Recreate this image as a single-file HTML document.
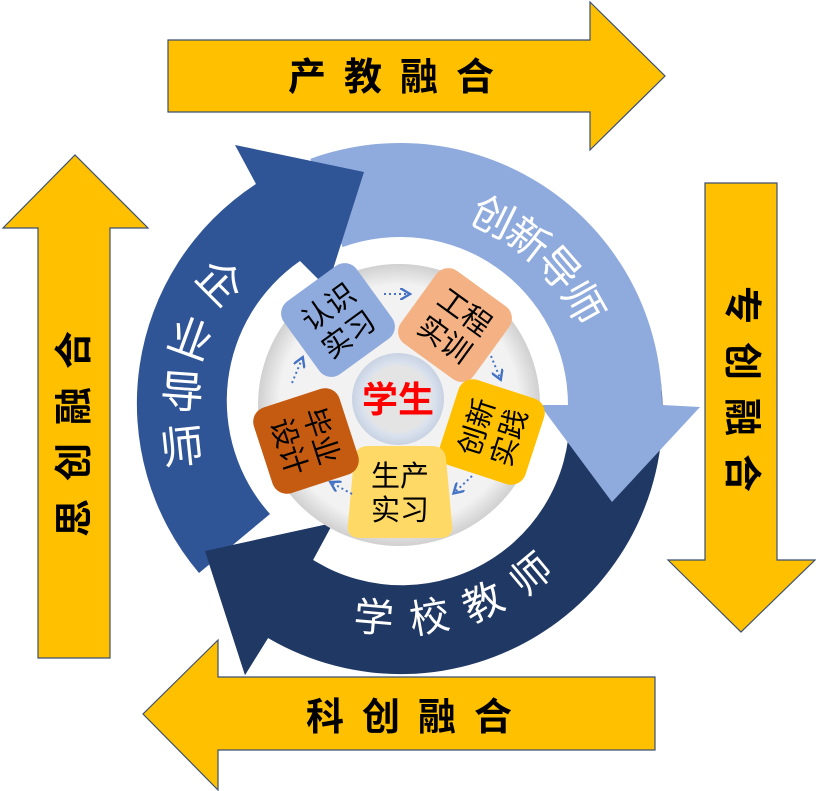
<!DOCTYPE html>
<html><head><meta charset="utf-8"><style>
html,body{margin:0;padding:0;background:#fff;}
svg{display:block;}
text{font-family:"Liberation Sans","Noto Sans CJK SC",sans-serif;}
</style></head><body>
<svg width="816" height="791" viewBox="0 0 816 791" xmlns="http://www.w3.org/2000/svg">
<defs>
<radialGradient id="disk" cx="50%" cy="50%" r="50%">
<stop offset="85%" stop-color="#f2f2f2"/><stop offset="100%" stop-color="#d0d0d0"/>
</radialGradient>
<radialGradient id="stu" cx="50%" cy="50%" r="50%">
<stop offset="70%" stop-color="#e4e4e4"/><stop offset="80%" stop-color="#d9e1ee"/><stop offset="100%" stop-color="#c8d2e2"/>
</radialGradient>
<marker id="ah" markerWidth="6" markerHeight="6" refX="4" refY="3" orient="auto"><path d="M0,0 L5,3 L0,6" fill="none" stroke="#4472C4" stroke-width="1.2"/></marker>
<path id="p1" d="M443.7,199.6 A212,212 0 0 1 602.8,350.6"/>
<path id="p2" d="M309.1,599.9 A215,215 0 0 0 586.2,512.5"/>
</defs>

<!-- yellow arrows -->
<g fill="#FFC000" stroke="#3A4F72" stroke-width="1.2">
<polygon points="168,40 590,40 590,2 665,76 590,150 590,112 168,112"/>
<polygon points="705,183 777,183 777,560 815,560 741,632 668,560 705,560"/>
<polygon points="655,677 655,750 218,750 218,790 143,714 218,640 218,677"/>
<polygon points="38,658 38,228 3,228 75,155 148,228 110,228 110,658"/>
</g>
<g font-weight="bold" font-size="38">
<text x="400" y="90" text-anchor="middle" letter-spacing="18">产教融合</text>
<text x="418" y="730" text-anchor="middle" letter-spacing="18">科创融合</text>
<text transform="translate(741,398) rotate(90)" text-anchor="middle" dominant-baseline="central" letter-spacing="18">专创融合</text>
<text transform="translate(75,425) rotate(-90)" text-anchor="middle" dominant-baseline="central" letter-spacing="18">思创融合</text>
</g>

<!-- ring arrows -->
<path fill="#203864" d="M661,382.2 A262,262 0 0 1 268,638 L245,675 L205,551 L333,523 L313,560 A168,168 0 0 0 567.4,390.4 Z"/>
<path fill="#8FAADC" d="M310.4,158.8 A262,262 0 0 1 662,405 L700,407 L612,502 L540,405 L568,405 A168,168 0 0 0 342.5,247.1 Z"/>
<path fill="#2F5597" d="M199,573 A262,262 0 0 1 256,184 L235,145 L364,172 L327,288 L300,261 A170,170 0 0 0 270,514 Z"/>
<!-- navy arrowhead redrawn on top -->
<path fill="#203864" d="M320,655 L268,638 L245,675 L205,551 L333,523 L313,560 L340,575 Z"/>

<text font-size="42" fill="#fff" dominant-baseline="central"><textPath href="#p1" startOffset="50%" text-anchor="middle">创新导师</textPath></text>
<text font-size="40" fill="#fff" dominant-baseline="central" letter-spacing="16"><textPath href="#p2" startOffset="50%" text-anchor="middle">学校教师</textPath></text>
<g font-size="44" fill="#fff" text-anchor="middle" dominant-baseline="central">
<text transform="translate(219,283) rotate(45)">企</text>
<text transform="translate(190,340) rotate(20)">业</text>
<text transform="translate(182,393) rotate(4)">导</text>
<text transform="translate(182,448) rotate(-6)">师</text>
</g>

<!-- center disk -->
<circle cx="399" cy="405" r="141" fill="url(#disk)"/>
<circle cx="398" cy="399" r="46" fill="url(#stu)"/>
<text x="398" y="412" font-size="36" font-weight="bold" fill="#FF0000" text-anchor="middle">学生</text>

<!-- petals -->
<g font-size="29" text-anchor="middle">
<g transform="translate(338,320) rotate(-36)">
<rect x="-45" y="-45" width="90" height="90" rx="15" fill="#8FAADC"/>
<text y="-6">认识</text>
<text y="28">实习</text>
</g>
<g transform="translate(455,325) rotate(36)">
<rect x="-45" y="-45" width="90" height="90" rx="15" fill="#F4B183"/>
<text y="-6">工程</text>
<text y="28">实训</text>
</g>
<g transform="translate(492,432) rotate(-72)">
<rect x="-45" y="-45" width="90" height="90" rx="15" fill="#FFC000"/>
<text y="-6">创新</text>
<text y="28">实践</text>
</g>
<g transform="translate(400,492)">
<path d="M-32,-46 L32,-46 Q44,-46 46,-34 L52,32 Q54,46 40,46 L-40,46 Q-54,46 -52,32 L-46,-34 Q-44,-46 -32,-46 Z" fill="#FFD966"/>
<text y="-6">生产</text>
<text y="28">实习</text>
</g>
<g transform="translate(306,441) rotate(72)">
<rect x="-45" y="-45" width="90" height="90" rx="15" fill="#C55A11"/>
<text y="-6">毕业</text>
<text y="28">设计</text>
</g>
</g>

<!-- dotted arrows -->
<g stroke="#4472C4" stroke-width="2" stroke-dasharray="2,3" fill="none" marker-end="url(#ah)">
<line x1="384" y1="294" x2="408" y2="294"/>
<line x1="491" y1="356" x2="500" y2="378"/>
<line x1="472" y1="476" x2="455" y2="492"/>
<line x1="352" y1="494" x2="332" y2="483"/>
<line x1="292" y1="383" x2="302" y2="359"/>
</g>
</svg>
</body></html>
